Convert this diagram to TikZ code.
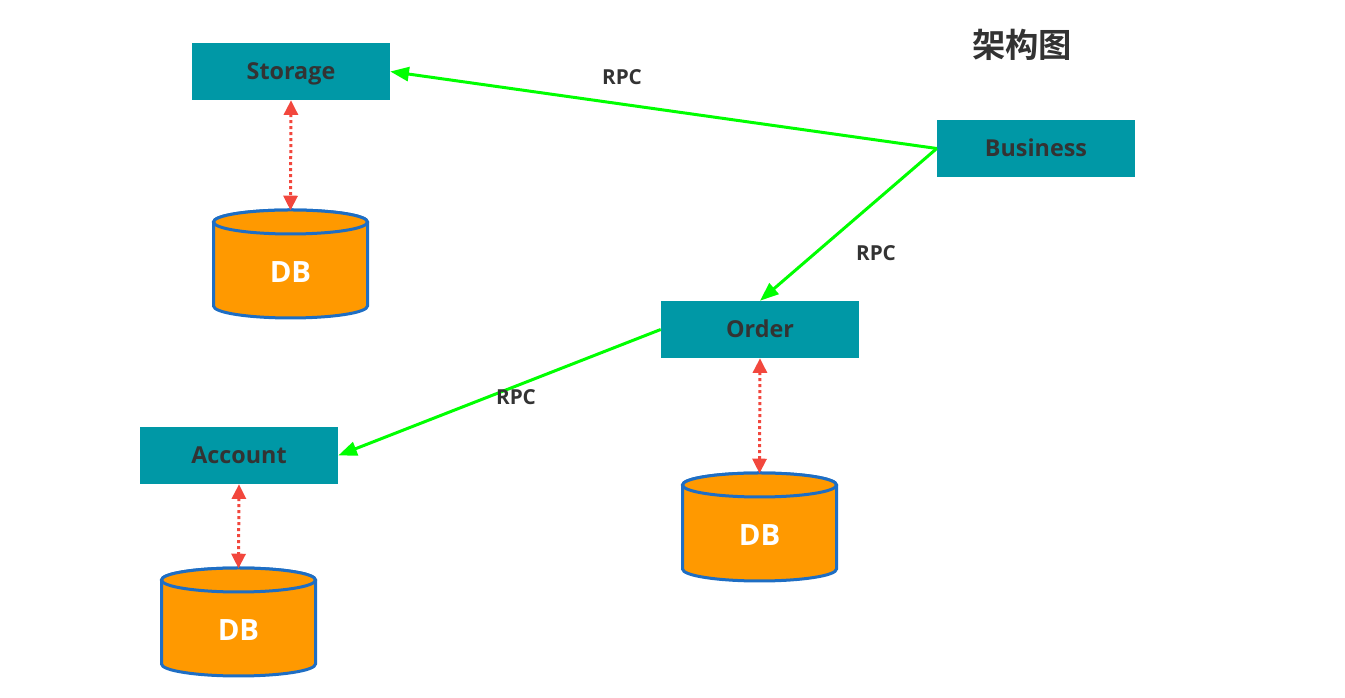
\documentclass[tikz,border=0pt]{standalone}
\usepackage{fontspec}
\setmainfont{Open Sans}
\newfontfamily\cjkfont{Noto Sans CJK SC Bold}
\usetikzlibrary{arrows.meta}
\definecolor{boxteal}{HTML}{0098A6}
\definecolor{txtdark}{HTML}{333333}
\definecolor{rpcgreen}{HTML}{00FF00}
\definecolor{dbred}{HTML}{F2473D}
\definecolor{dborange}{HTML}{FF9900}
\definecolor{dbblue}{HTML}{1E6EC4}
\tikzset{
  svcbox/.style={fill=boxteal, draw=none, minimum width=148.5pt, minimum height=42.75pt, inner sep=0pt,
    font=\fontsize{17.5}{20}\selectfont\bfseries, text=txtdark, text height=12.5pt, text depth=0pt},
  dbframe/.style={minimum width=117.75pt, minimum height=81pt, inner sep=0pt},
  dbtext/.style={inner sep=0pt, font=\fontsize{22}{26}\selectfont\bfseries, text=white,
    text height=15.7pt, text depth=0pt},
  rpcline/.style={draw=rpcgreen, line width=2.25pt, -{Triangle[length=14pt,width=10.5pt]}},
  dbline/.style={draw=dbred, line width=2.25pt, dash pattern=on 2.25pt off 2.25pt,
    {Triangle[length=11pt,width=10.5pt]}-{Triangle[length=11pt,width=10.5pt]}},
  rpclabel/.style={font=\fontsize{15.5}{18}\selectfont\bfseries, text=txtdark, text height=11.1pt, text depth=0pt},
  cylshape/.style={fill=dborange, draw=dbblue, line width=2.25pt}
}
\newcommand\dbcyl[3]{%
  \begin{scope}[shift={(#2,#3)}]
    \path[cylshape] (-77,42) -- (-77,-42) arc[start angle=180, end angle=360, x radius=57.75pt, y radius=9pt]
      -- (77,42) arc[start angle=0, end angle=180, x radius=57.75pt, y radius=9pt] -- cycle;
    \draw[cylshape] (0,42) ellipse[x radius=57.75pt, y radius=9pt];
  \end{scope}
  \node[dbframe] (#1) at (#2,#3) {};
  \node[dbtext] (#1label) at (#2,#3-8) {DB};
}
\begin{document}
\begin{tikzpicture}[x=0.75pt, y=0.75pt]
\useasboundingbox (0,0) rectangle (1345,698);
\node[svcbox] (storage) at (291,626.5) {Storage};
\node[svcbox] (business) at (1036,549.5) {Business};
\node[svcbox] (order) at (760,368.5) {Order};
\node[svcbox] (account) at (239,242.5) {Account};
\dbcyl{db1}{290.5}{434}
\dbcyl{db2}{759.5}{171}
\dbcyl{db3}{238.5}{76}
\node[font=\fontsize{25}{29}\selectfont, text=txtdark] (title) at (1022,653) {\cjkfont 架构图};
\draw[rpcline] (business.west) -- (storage.east);
\draw[rpcline] (business.west) -- (order.north);
\draw[rpcline] (order.west) -- (account.east);
\node[rpclabel] (rpc1) at (622,621) {RPC};
\node[rpclabel] (rpc2) at (876,445) {RPC};
\node[rpclabel] (rpc3) at (516,301) {RPC};
\draw[dbline] (storage.south) -- ([yshift=-0.5pt]db1.north);
\draw[dbline] (order.south) -- ([yshift=-0.5pt]db2.north);
\draw[dbline] (account.south) -- ([yshift=-0.5pt]db3.north);
\end{tikzpicture}
\end{document}
